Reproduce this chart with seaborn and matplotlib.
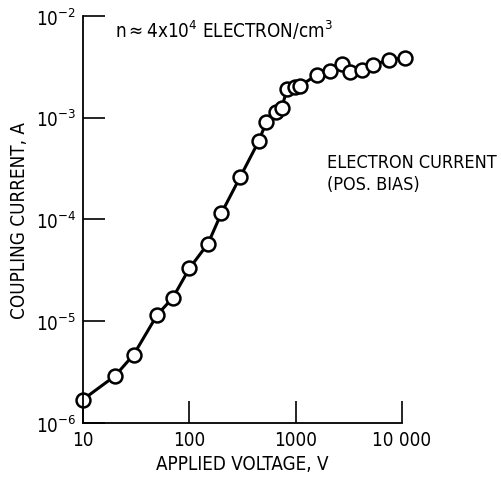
import matplotlib
matplotlib.use('Agg')
import matplotlib.pyplot as plt
import seaborn as sns
import pandas as pd

# Data
voltage = [10, 20, 30, 50, 70, 100, 150, 200, 300, 450, 530, 650, 740, 830,
           990, 1100, 1600, 2100, 2700, 3250, 4200, 5300, 7500, 10700]
current = [1.7e-6, 2.9e-6, 4.7e-6, 1.16e-5, 1.7e-5, 3.3e-5, 5.8e-5, 1.15e-4,
           2.6e-4, 5.9e-4, 9.1e-4, 1.14e-3, 1.26e-3, 1.9e-3, 2.0e-3, 2.06e-3,
           2.65e-3, 2.9e-3, 3.35e-3, 2.8e-3, 2.95e-3, 3.3e-3, 3.7e-3, 3.9e-3]

x_ticks = [10, 100, 1000, 10000]
x_tick_labels = ['10', '100', '1000', '10 000']
y_ticks = [1e-6, 1e-5, 1e-4, 1e-3, 1e-2]
y_tick_labels = [r'$\mathregular{10^{-6}}$', r'$\mathregular{10^{-5}}$', r'$\mathregular{10^{-4}}$',
                 r'$\mathregular{10^{-3}}$', r'$\mathregular{10^{-2}}$']

df = pd.DataFrame({'voltage': voltage, 'current': current})

sns.set_style('ticks')
plt.rcParams['font.family'] = ['DejaVu Sans']
plt.rcParams['font.stretch'] = 'condensed'
plt.rcParams['mathtext.default'] = 'regular'
plt.rcParams['text.color'] = 'black'
plt.rcParams['axes.labelcolor'] = 'black'

fig = plt.figure(figsize=(5.02, 4.85), dpi=100)
ax = fig.add_axes([0.1653, 0.1258, 0.6355, 0.8392])

sns.lineplot(data=df, x='voltage', y='current', ax=ax, sort=False, estimator=None,
             color='black', linewidth=2.2, marker='o', markersize=10,
             markerfacecolor='white', markeredgecolor='black', markeredgewidth=1.8,
             clip_on=False)

ax.set_xscale('log')
ax.set_yscale('log')
ax.set_xlim(10, 10000)
ax.set_ylim(1e-6, 1e-2)
ax.set_xticks(x_ticks)
ax.set_xticklabels(x_tick_labels)
ax.set_yticks(y_ticks)
ax.set_yticklabels(y_tick_labels)
ax.minorticks_off()
ax.tick_params(direction='in', length=16, width=1.2, labelsize=13.5, colors='black', pad=5)

for side in ['top', 'right']:
    ax.spines[side].set_visible(False)
for side in ['left', 'bottom']:
    ax.spines[side].set_linewidth(1.3)
    ax.spines[side].set_color('black')

ax.set_xlabel('APPLIED VOLTAGE, V', fontsize=13.5, labelpad=4)
ax.set_ylabel('COUPLING CURRENT, A', fontsize=13.5, labelpad=5)

ax.text(0.10, 0.968, r'n$\approx$4x10$^{4}$ ELECTRON/cm$^{3}$', transform=ax.transAxes,
        fontsize=13.5, va='center', ha='left')
ax.text(0.765, 0.615, 'ELECTRON CURRENT\n(POS. BIAS)', transform=ax.transAxes,
        fontsize=13, va='center', ha='left', linespacing=1.3)

fig.savefig('out.png', dpi=100)
